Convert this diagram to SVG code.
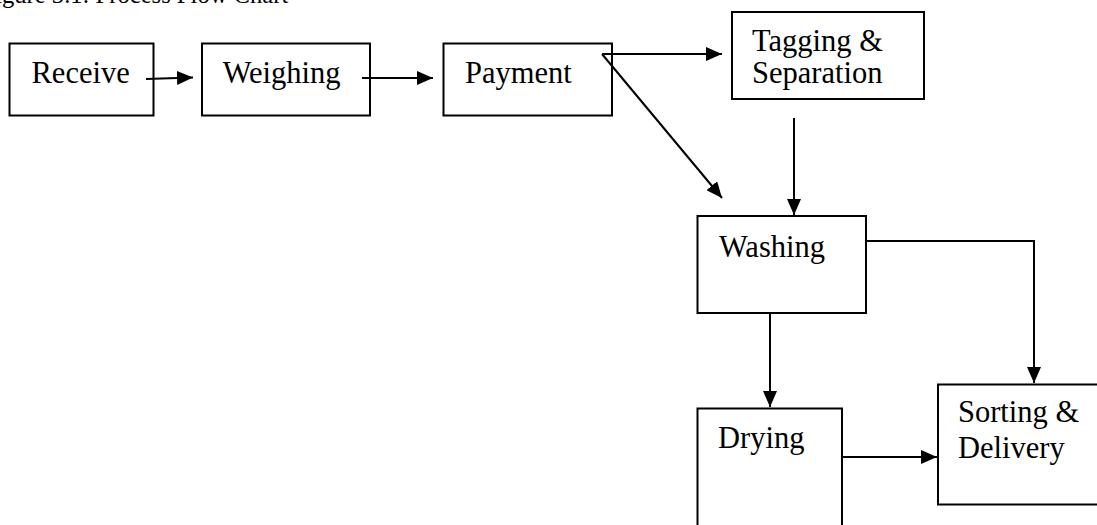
<svg xmlns="http://www.w3.org/2000/svg" width="1097" height="525" viewBox="0 0 1097 525">
<style>
.box{fill:#fff;stroke:#000;stroke-width:2}
.t{font-family:"Liberation Serif","Times New Roman",serif;font-size:30.5px;fill:#000}
.title{font-family:"Liberation Serif","Times New Roman",serif;font-size:24.6px;fill:#000}
.c{fill:none;stroke:#000;stroke-width:2}
</style>
<defs>
<marker id="ah" viewBox="0 0 16 14" refX="16" refY="7" markerWidth="16" markerHeight="14" markerUnits="userSpaceOnUse" orient="auto">
<path d="M0,0 L16,7 L0,14 Z" fill="#000"/>
</marker>
</defs>
<rect width="1097" height="525" fill="#fff"/>
<text class="title" x="-18.5" y="2.5">Figure 3.1: Process Flow Chart</text>
<g id="receive"><rect class="box" x="9.5" y="43.5" width="144" height="72"/><text class="t" x="31.5" y="83.3">Receive</text></g>
<g id="weighing"><rect class="box" x="202" y="43.5" width="168" height="72"/><text class="t" x="222.7" y="83.3">Weighing</text></g>
<g id="payment"><rect class="box" x="443.5" y="43.5" width="168.5" height="72"/><text class="t" x="465" y="83.3">Payment</text></g>
<g id="tagging"><rect class="box" x="732" y="12" width="192" height="87"/><text class="t" x="752" y="50.7">Tagging &amp;</text><text class="t" x="752" y="83.3">Separation</text></g>
<g id="washing"><rect class="box" x="697.5" y="216" width="168.5" height="97"/><text class="t" x="719" y="257">Washing</text></g>
<g id="drying"><rect class="box" x="697.5" y="408.5" width="144.5" height="130"/><text class="t" x="718" y="448">Drying</text></g>
<g id="sorting"><rect class="box" x="938" y="384.5" width="170" height="120"/><text class="t" x="958" y="422">Sorting &amp;</text><text class="t" x="958" y="458">Delivery</text></g>
<g id="connectors">
<line class="c" x1="146" y1="79" x2="193" y2="77.5" marker-end="url(#ah)"/>
<line class="c" x1="362" y1="78" x2="433" y2="78" marker-end="url(#ah)"/>
<line class="c" x1="602" y1="54" x2="722" y2="54" marker-end="url(#ah)"/>
<line class="c" x1="602" y1="54" x2="722" y2="198" marker-end="url(#ah)"/>
<line class="c" x1="794" y1="118" x2="794" y2="215" marker-end="url(#ah)"/>
<polyline class="c" points="866,241 1034,241 1034,383" marker-end="url(#ah)"/>
<line class="c" x1="770" y1="313" x2="770" y2="407" marker-end="url(#ah)"/>
<line class="c" x1="842" y1="457" x2="937" y2="457" marker-end="url(#ah)"/>
</g>
</svg>
